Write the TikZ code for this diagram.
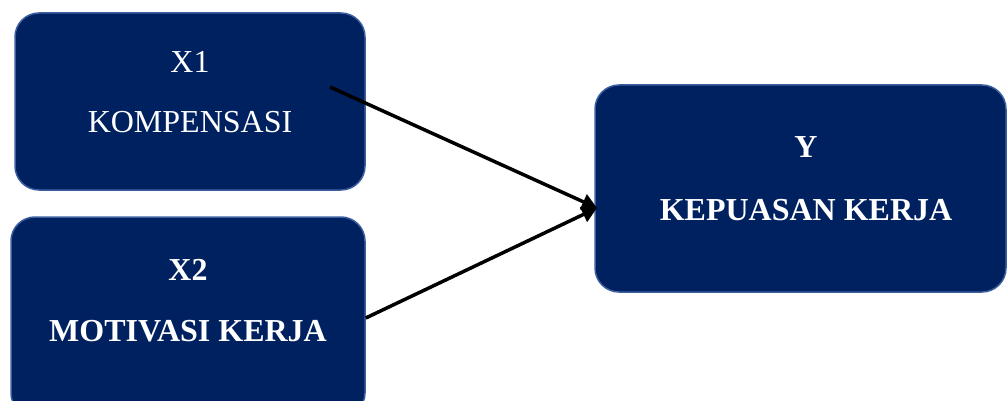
\documentclass[tikz,border=0pt]{standalone}
\usepackage{fontspec}
\setmainfont{Liberation Serif}
\usetikzlibrary{arrows.meta}
\definecolor{navy}{RGB}{0,33,96}
\definecolor{edgeblue}{RGB}{60,95,160}
\begin{document}
\begin{tikzpicture}[x=1pt,y=-1pt,
  box/.style={draw=edgeblue, line width=1.5pt, fill=navy, rounded corners=24pt, inner sep=0pt},
  lbl/.style={text=white, inner sep=0pt, font=\fontsize{32}{36}\selectfont},
  blbl/.style={lbl, font=\fontsize{32}{36}\selectfont\bfseries},
  conn/.style={line width=3.5pt, -{Triangle[length=15pt,width=16pt]}}]
\useasboundingbox (0,0) rectangle (1007,401);
\node[box, minimum width=350pt, minimum height=177pt] (b1) at (190,101.5) {};
\node[box, minimum width=354pt, minimum height=200pt] (b2) at (188,317) {};
\node[box, minimum width=411pt, minimum height=207pt] (b3) at (800.5,188.5) {};
\node[lbl] (t1a) at (190,62) {X1};
\node[lbl] (t1b) at (190,122) {KOMPENSASI};
\node[blbl] (t2a) at (188,270) {X2};
\node[blbl] (t2b) at (188,331) {MOTIVASI KERJA};
\node[blbl] (t3a) at (806,147) {Y};
\node[blbl] (t3b) at (806,210) {KEPUASAN KERJA};
\coordinate (s1) at (330,87);
\coordinate (e) at (597,208);
\draw[conn] (s1) -- (e);
\draw[conn] (b2.east |- 0,318) -- (e);
\end{tikzpicture}
\end{document}
